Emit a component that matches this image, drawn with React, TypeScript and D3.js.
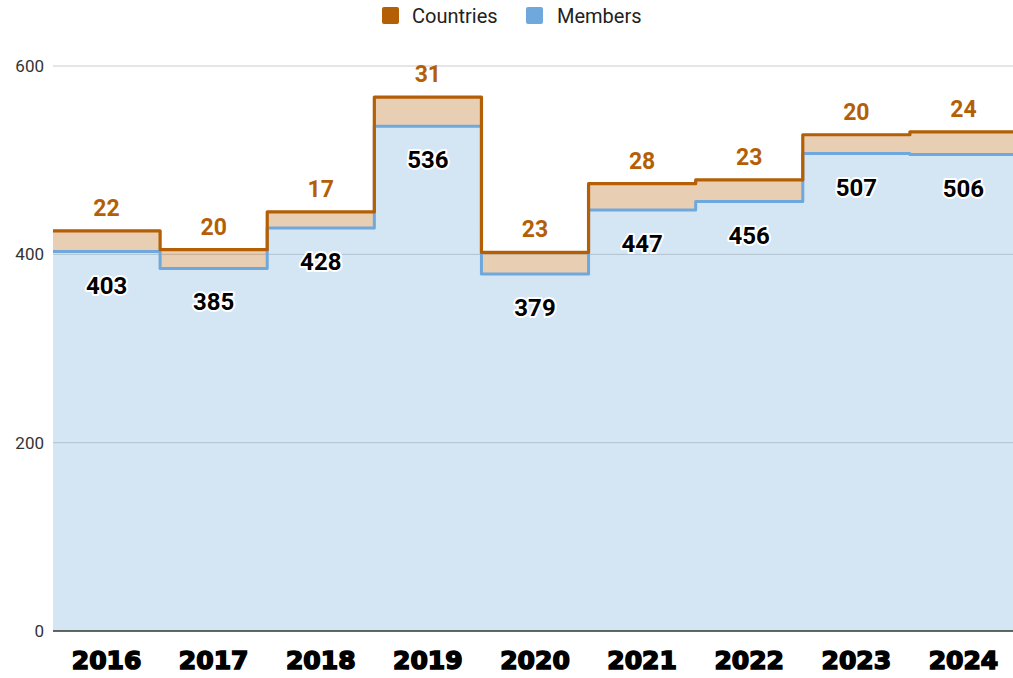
import React from 'react';
import * as d3 from 'd3';

const years = ['2016', '2017', '2018', '2019', '2020', '2021', '2022', '2023', '2024'];
const members = [403, 385, 428, 536, 379, 447, 456, 507, 506];
const countries = [22, 20, 17, 31, 23, 28, 23, 20, 24];
const yTicks = [0, 200, 400, 600];

const ORANGE = '#b45f06';
const BLUE = '#6fa8dc';

const width = 1013;
const height = 678;
const left = 53;
const right = 1017;
const top = 66;
const bottom = 631;

const App: React.FC = () => {
  const x = d3.scaleLinear().domain([0, years.length]).range([left, right]);
  const y = d3.scaleLinear().domain([0, 600]).range([bottom, top]);

  // step points at band edges, last value repeated to close the final band
  const pts = years.map((yr, i) => ({ i, m: members[i], t: members[i] + countries[i] }));
  pts.push({ i: years.length, m: members[members.length - 1], t: members[members.length - 1] + countries[countries.length - 1] });

  const blueArea = d3.area<any>().x(d => x(d.i)).y0(y(0)).y1(d => y(d.m)).curve(d3.curveStepAfter);
  const orangeArea = d3.area<any>().x(d => x(d.i)).y0(d => y(d.m)).y1(d => y(d.t)).curve(d3.curveStepAfter);
  const blueLine = d3.line<any>().x(d => x(d.i)).y(d => y(d.m)).curve(d3.curveStepAfter);
  const orangeLine = d3.line<any>().x(d => x(d.i)).y(d => y(d.t)).curve(d3.curveStepAfter);

  const cx = (i: number) => (x(i) + x(i + 1)) / 2;

  return (
    <svg width={width} height={height} style={{ position: 'absolute', left: 0, top: 0, background: '#fff' }}>
      {/* legend */}
      <g fontFamily="Roboto, Arial, sans-serif" fontSize={20} fill="#222">
        <rect x={382} y={7} width={17} height={17} rx={2} fill={ORANGE} />
        <text x={412} y={23}>Countries</text>
        <rect x={526} y={7} width={17} height={17} rx={2} fill={BLUE} />
        <text x={557} y={23}>Members</text>
      </g>

      {/* grid */}
      {yTicks.filter(t => t > 0).map(t => (
        <line key={t} x1={left} x2={width} y1={y(t)} y2={y(t)} stroke="#cccccc" strokeWidth={1} />
      ))}
      <g fontFamily="Roboto, Arial, sans-serif" fontSize={17} fill="#333" textAnchor="end">
        {yTicks.map(t => (
          <text key={t} x={44} y={y(t) + 6}>{t}</text>
        ))}
      </g>

      {/* areas */}
      <path d={blueArea(pts) as string} fill={BLUE} fillOpacity={0.3} />
      <path d={orangeArea(pts) as string} fill={ORANGE} fillOpacity={0.3} />
      <path d={blueLine(pts) as string} fill="none" stroke={BLUE} strokeWidth={3} strokeLinejoin="round" />
      <path d={orangeLine(pts) as string} fill="none" stroke={ORANGE} strokeWidth={3.2} strokeLinejoin="round" />

      {/* baseline */}
      <line x1={left} x2={width} y1={y(0)} y2={y(0)} stroke="#333" strokeWidth={1.5} />

      {/* data labels */}
      <g fontFamily="Roboto, Arial, sans-serif" fontWeight="bold" textAnchor="middle">
        {members.map((m, i) => (
          <text key={'m' + i} x={cx(i)} y={y(m) + 42} fontSize={24} fill="#000" stroke="#fff" strokeWidth={4}
            strokeLinejoin="round" style={{ paintOrder: 'stroke' }}>{m}</text>
        ))}
        {countries.map((c, i) => (
          <text key={'c' + i} x={cx(i)} y={y(members[i] + c) - 15} fontSize={23} fill={ORANGE}>{c}</text>
        ))}
      </g>

      {/* x labels */}
      <g fontFamily="'DejaVu Sans', sans-serif" fontSize={25} fontWeight="bold" textAnchor="middle"
        fill="#000" stroke="#000" strokeWidth={1.6}>
        {years.map((yr, i) => (
          <text key={yr} x={cx(i)} y={669}>{yr}</text>
        ))}
      </g>
    </svg>
  );
};

export default App;
